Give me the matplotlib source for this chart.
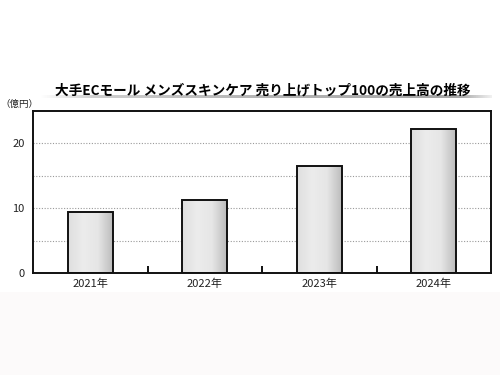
import matplotlib
matplotlib.use('Agg')
import matplotlib.pyplot as plt
import numpy as np
from matplotlib.colors import LinearSegmentedColormap

plt.rcParams['font.family'] = ['Noto Sans CJK JP', 'DejaVu Sans']

years = ['2021年', '2022年', '2023年', '2024年']
sales = [9.4, 11.2, 16.5, 22.2]  # 億円
yticks = [0, 10, 20]
title = '大手ECモール メンズスキンケア 売り上げトップ100の売上高の推移'

fig = plt.figure(figsize=(5, 3.75), dpi=100)
fig.patch.set_facecolor('white')

# faint tinted strip at the bottom of the image
bg = fig.add_axes([0, 0, 1, 83 / 375], zorder=-10)
bg.axis('off')
bg.add_patch(plt.Rectangle((0, 0), 1, 1, transform=bg.transAxes, color='#fcfafa'))

ax = fig.add_axes([33 / 500, 102 / 375, 458 / 500, 162 / 375])

# dotted grid
for g in [5, 10, 15, 20]:
    ax.axhline(g, color='#9a9a9a', lw=0.8, ls=(0, (1, 1.5)), zorder=0)

bar_cmap = LinearSegmentedColormap.from_list(
    'bar', ['#dedede', '#ececec', '#e6e6e6', '#bcbcbc'])
grad = np.linspace(0, 1, 256).reshape(1, -1)

x = np.arange(len(years))
bars = ax.bar(x, sales, width=0.39, facecolor='none', edgecolor='#111111',
              linewidth=1.4, zorder=3)
for b in bars:
    x0, w, h = b.get_x(), b.get_width(), b.get_height()
    im = ax.imshow(grad, cmap=bar_cmap, aspect='auto',
                   extent=[x0, x0 + w, 0, h], zorder=2)
    im.set_clip_path(b)
ax.set_xlim(-0.5, 3.5)
ax.set_ylim(0, 25)

ax.set_xticks(x)
ax.set_xticklabels(years, fontsize=8, color='#222222')
ax.set_xticks([0.5, 1.5, 2.5], minor=True)
ax.tick_params(axis='x', which='major', length=0, pad=4)
ax.tick_params(axis='x', which='minor', direction='in', length=5, width=1.4,
               color='#111111')
ax.set_yticks(yticks)
ax.set_yticklabels([str(v) for v in yticks], fontsize=8, color='#222222')
ax.tick_params(axis='y', length=0, pad=6)
for s in ax.spines.values():
    s.set_linewidth(1.4)
    s.set_color('#111111')

fig.text(0 / 500, 1 - 104 / 375, '（億円）', fontsize=6.8, va='center', ha='left',
         color='#222222')

# title underline with gradient
ul = fig.add_axes([40 / 500, 1 - 98 / 375, 452 / 500, 3.5 / 375])
line_cmap = LinearSegmentedColormap.from_list(
    'ul', [(0, '#ffffff'), (0.12, '#cfcfcf'), (0.5, '#b4b4b4'),
           (0.93, '#a6a6a6'), (1, '#f0f0f0')])
ul.imshow(grad, cmap=line_cmap, aspect='auto', extent=[0, 1, 0, 1])
ul.axis('off')

fig.text(263 / 500, 1 - 91 / 375, title, fontsize=9.8, fontweight='bold',
         ha='center', va='center', zorder=5)

fig.savefig('out.png', dpi=100)
